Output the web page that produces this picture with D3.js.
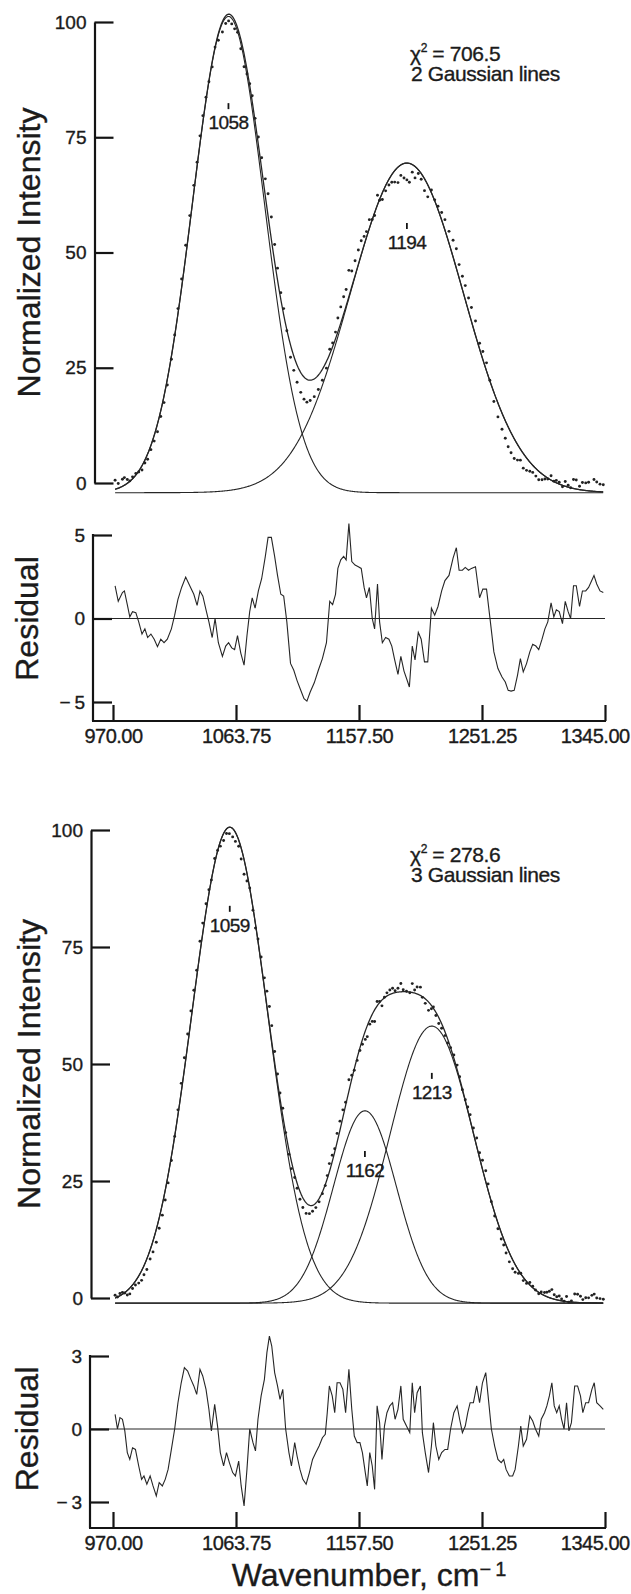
<!DOCTYPE html>
<html>
<head>
<meta charset="utf-8">
<script src="https://cdn.jsdelivr.net/npm/d3@7"></script>
<style>
  html, body { margin: 0; padding: 0; background: #fff; }
  svg { display: block; }
  text { font-family: "Liberation Sans", Arial, Helvetica, sans-serif; fill: #1b1b1b;
         stroke: #1b1b1b; stroke-width: 0.35px; }
</style>
</head>
<body>
<svg id="chart" width="631" height="1594"></svg>
<script>
// ---------- data ----------
const xTicks = [970, 1063.75, 1157.5, 1251.25, 1345];
const intensityTicks = [0, 25, 50, 75, 100];
const resid2Ticks = [-5, 0, 5];
const resid3Ticks = [-3, 0, 3];

// Two-line fit: centre (cm^-1), height above baseline, Gaussian sigma (cm^-1)
const fit2Centers = [1058, 1194];
const fit2Heights = [103.3, 71.5];
const fit2Sigmas = [27.5, 43];
const fit2Baseline = -2.1;
const fit2Chi2 = "706.5";
const fit2LineCount = 2;

// Three-line fit
const fit3Centers = [1059, 1162, 1213];
const fit3Heights = [101.7, 41.1, 59.2];
const fit3Sigmas = [29, 24, 32];
const fit3Baseline = -1.1;
const fit3Chi2 = "278.6";
const fit3LineCount = 3;

// Residuals (observed - fit) and the wavenumbers they were sampled at
const resid2Wn = [971.6,974.0,977.2,978.7,980.9,982.8,984.9,987.4,989.6,992.1,
  994.3,996.4,998.9,1001.4,1003.9,1006.4,1008.9,1011.4,1014.5,1017.0,
  1019.5,1022.3,1025.4,1028.5,1031.6,1034.1,1036.3,1038.5,1040.9,1043.1,
  1045.6,1047.8,1050.3,1053.4,1055.9,1058.1,1060.5,1062.7,1064.9,1067.4,
  1069.9,1072.1,1074.2,1076.1,1078.3,1080.8,1083.3,1086.1,1088.2,1090.7,
  1093.2,1095.4,1097.9,1100.1,1102.5,1105.3,1107.8,1110.3,1113.1,1115.6,
  1117.8,1120.3,1123.4,1126.5,1129.6,1132.7,1135.2,1137.4,1139.6,1141.4,
  1143.6,1145.8,1147.7,1149.8,1152.0,1154.5,1157.0,1159.2,1161.4,1163.2,
  1165.4,1167.6,1169.4,1171.6,1173.2,1175.3,1177.8,1180.3,1182.5,1184.7,
  1187.2,1189.4,1191.8,1194.0,1195.9,1198.1,1200.2,1202.7,1204.9,1207.4,
  1209.9,1212.7,1215.2,1217.7,1220.5,1223.0,1226.1,1229.2,1231.7,1233.8,
  1236.3,1238.5,1241.0,1243.2,1246.3,1249.4,1251.9,1254.7,1257.2,1260.3,
  1263.4,1266.5,1269.0,1271.2,1273.4,1275.8,1278.3,1280.5,1282.7,1285.2,
  1287.7,1289.9,1292.3,1294.5,1297.0,1299.2,1301.4,1303.9,1306.0,1307.9,
  1310.1,1312.6,1314.7,1316.9,1318.8,1321.0,1323.1,1325.6,1327.8,1330.3,
  1332.5,1336.6,1338.7,1341.2,1343.7];
const resid2 = [1.96,1.03,1.55,1.65,0.83,0.1,0.41,0.35,-0.2,-0.93,
  -0.62,-1.14,-0.93,-1.24,-1.69,-1.24,-1.45,-1.24,-0.62,0.2,
  1.14,1.86,2.48,1.96,1.45,0.79,1.65,1.34,0.52,-0.2,
  -1.14,0,-1.45,-2.27,-1.65,-1.45,-1.76,-1.86,-1.03,-2.07,
  -2.79,-1.03,0.41,1.24,0.62,1.65,2.38,3.72,4.86,4.86,
  3.72,2.58,1.45,1.34,-0.2,-2.69,-3.1,-3.72,-4.3,-4.8,
  -4.95,-4.4,-3.85,-3.1,-2.4,-1.45,1.03,0.83,1.45,3.0,
  3.51,3.72,3.51,5.68,3.41,3.2,3.1,3.0,1.86,1.24,
  1.86,0,-0.62,2.07,-0.2,-1.45,-1.14,-1.24,-1.65,-2.48,
  -3.35,-2.27,-3.15,-3.65,-4.1,-1.65,-2.48,-0.83,-1.24,-2.6,
  -2.6,0.62,0.2,0.72,1.65,2.27,2.58,3.62,4.24,2.89,
  2.89,3.06,2.89,3.0,3.1,1.24,1.76,1.76,0.1,-2.0,
  -3.0,-3.5,-3.8,-4.3,-4.35,-4.3,-3.4,-2.4,-3.2,-2.7,
  -2.0,-1.55,-1.65,-1.86,-1.24,-0.62,-0.2,0.93,0.1,0.52,
  0.41,-0.31,1.03,0.41,0,1.96,1.96,0.72,1.65,1.65,
  1.86,2.58,2.07,1.65,1.55];

const resid3Wn = [971.6,973.4,975.3,977.2,979.0,980.9,982.8,984.9,987.1,989.6,
  991.8,993.6,995.8,998.3,1000.5,1003.0,1005.2,1007.6,1009.8,1012.0,
  1014.5,1017.0,1019.5,1022.0,1024.4,1026.9,1029.4,1031.6,1033.8,1036.3,
  1038.4,1040.9,1043.1,1045.0,1047.5,1049.7,1051.8,1054.3,1056.5,1058.7,
  1061.2,1063.3,1065.8,1067.7,1069.9,1072.1,1074.2,1076.7,1078.6,1080.5,
  1082.9,1085.4,1087.3,1089.2,1091.0,1093.2,1095.4,1097.3,1099.4,1101.6,
  1104.1,1106.0,1108.5,1110.3,1112.5,1114.7,1117.2,1119.7,1122.1,1124.6,
  1127.1,1129.6,1131.8,1133.3,1134.9,1137.1,1139.0,1140.8,1143.0,1145.2,
  1147.3,1149.8,1152.0,1153.9,1156.1,1158.2,1160.1,1162.3,1163.8,1165.7,
  1167.6,1169.4,1171.3,1173.2,1175.0,1176.9,1178.8,1181.0,1183.1,1185.0,
  1187.2,1189.4,1191.2,1193.7,1196.2,1198.1,1199.9,1201.8,1204.3,1205.8,
  1208.0,1210.5,1212.7,1214.2,1216.1,1218.3,1220.5,1223.0,1225.1,1227.3,
  1229.8,1232.3,1234.2,1236.3,1238.5,1240.4,1242.2,1244.7,1247.2,1249.4,
  1251.6,1254.1,1255.9,1258.4,1260.9,1263.4,1265.9,1267.8,1269.6,1272.1,
  1274.6,1276.5,1279.0,1280.8,1282.7,1285.2,1287.7,1289.9,1292.0,1294.5,
  1296.4,1298.9,1300.7,1302.6,1304.5,1306.3,1308.2,1310.1,1311.9,1313.8,
  1315.7,1317.5,1319.4,1321.9,1324.1,1326.3,1328.1,1330.3,1332.5,1335.0,
  1336.8,1338.7,1341.2,1343.7];
const resid3 = [0.6,0,0.47,0.4,-0.08,-0.97,-1.25,-0.77,-0.84,-1.52,
  -2.07,-1.93,-2.27,-1.93,-2.34,-2.75,-2.2,-2.34,-2.07,-1.66,
  -0.84,0,1.08,1.9,2.52,2.38,2.04,1.77,1.42,2.45,
  2.18,1.63,0.81,-0.08,1.01,0.12,-0.97,-1.52,-0.97,-1.38,
  -1.79,-1.93,-1.32,-2.34,-3.16,-1.66,0,-0.56,-0.9,0.4,
  1.36,2.04,3.14,3.82,3.41,2.32,1.77,1.22,1.63,0,
  -0.97,-1.52,-0.56,-1.11,-1.66,-2.07,-2.27,-1.79,-1.25,-0.97,
  -0.7,-0.36,-0.22,0.67,1.77,1.36,0.67,1.9,1.9,1.63,
  0.67,2.45,0.81,-0.29,-0.56,-0.56,-0.97,-1.79,-2.34,-0.97,
  -1.52,-2.48,0.95,0.26,-1.25,0.12,0.67,0.95,1.08,0.4,
  0.81,1.77,0.4,0.12,-0.15,1.9,0.67,1.49,1.77,-0.15,
  -0.97,-1.79,-0.7,0.26,-0.7,-1.25,-0.97,-0.84,-0.84,0,
  0.67,0.95,0.4,-0.15,0.12,0.67,1.08,1.08,1.77,1.08,
  1.9,2.32,1.36,0,-0.7,-1.25,-1.38,-1.25,-1.66,-1.93,
  -1.93,-1.66,-0.7,0.12,-0.7,-0.42,0.53,0.33,0,-0.29,
  0.4,0.67,0.95,1.36,1.9,0.95,0.67,0.95,0.4,0,
  1.08,-0.08,0.26,1.77,1.77,1.36,0.67,1.08,1.08,1.63,
  1.9,1.08,0.95,0.81];

// ---------- layout ----------
const W = 631;
const svg = d3.select("#chart");
const INK = "#141414";
const CURVE = "#262626";
const xDomain = [970, 1345];
const xRange = [113, 605];

const panels = {
  fit2: { axisX: 94.5, yRange: [483, 22], markLevels: [82.4, 56.4], textY: 61 },
  res2: { axisX: 93, yRange: [702, 535], xAxisY: 721 },
  fit3: { axisX: 91, yRange: [1298, 830], markLevels: [83.8, 31.4, 48.1], textY: 862 },
  res3: { axisX: 90, yRange: [1502, 1356], xAxisY: 1528 }
};

const fmtTick = d => d < 0 ? "\u2212\u2009" + Math.abs(d) : String(d);
const FONT = '"Liberation Sans", Arial, sans-serif';

function drawSpectrum(p, centers, heights, sigmas, baseline, wn, resid, chi2, nLines) {
  const g = svg.append("g");
  const x = d3.scaleLinear().domain(xDomain).range(xRange);
  const y = d3.scaleLinear().domain([0, 100]).range(p.yRange);
  const comp = (i, w) => heights[i] * Math.exp(-((w - centers[i]) ** 2) / (2 * sigmas[i] ** 2));
  const total = w => baseline + d3.sum(centers, (c, i) => comp(i, w));
  const grid = d3.range(wn[0], wn[wn.length - 1] + 0.01, 0.5);
  const line = d3.line().x(d => x(d[0])).y(d => y(d[1]));

  // individual Gaussian lines
  centers.forEach((c, i) => {
    g.append("path")
      .datum(grid.map(w => [w, baseline + comp(i, w)]))
      .attr("d", line).attr("fill", "none")
      .attr("stroke", CURVE).attr("stroke-width", 1.1);
  });
  // summed fit
  g.append("path")
    .datum(grid.map(w => [w, total(w)]))
    .attr("d", line).attr("fill", "none")
    .attr("stroke", CURVE).attr("stroke-width", 1.3);

  // observed points = fit + residual
  g.append("g").selectAll("circle")
    .data(wn.map((w, j) => [w, total(w) + resid[j]]))
    .join("circle")
    .attr("cx", d => x(d[0])).attr("cy", d => y(d[1]))
    .attr("r", 1.45).attr("fill", "#222");

  // y axis
  const ax = g.append("g").attr("transform", `translate(${p.axisX},0)`)
    .call(d3.axisLeft(y).tickValues(intensityTicks).tickSize(-19).tickSizeOuter(0).tickPadding(8));
  ax.select(".domain").attr("stroke", INK).attr("stroke-width", 2.2);
  ax.selectAll(".tick line").attr("stroke", INK).attr("stroke-width", 2.2);
  ax.selectAll(".tick text").attr("font-size", 19).attr("fill", INK).style("font-family", FONT);

  // peak centre marks
  centers.forEach((c, i) => {
    const yt = y(p.markLevels[i]);
    g.append("line").attr("x1", x(c)).attr("x2", x(c))
      .attr("y1", yt).attr("y2", yt + 6)
      .attr("stroke", INK).attr("stroke-width", 1.8);
    g.append("text").attr("x", x(c)).attr("y", yt + 26)
      .attr("text-anchor", "middle").attr("font-size", 19)
      .attr("letter-spacing", -0.6).text(c);
  });

  // fit statistics
  const t = g.append("text").attr("x", 410).attr("y", p.textY).attr("font-size", 21).attr("letter-spacing", -0.4);
  t.append("tspan").text("\u03c7");
  t.append("tspan").attr("font-size", 12).attr("dy", -9).text("2");
  t.append("tspan").attr("dy", 9).text(" =  " + chi2);
  g.append("text").attr("x", 411).attr("y", p.textY + 20).attr("font-size", 21)
    .attr("letter-spacing", -0.4).text(nLines + " Gaussian lines");

  // axis title
  g.append("text")
    .attr("transform", `translate(40,${(p.yRange[0] + p.yRange[1]) / 2}) rotate(-90)`)
    .attr("text-anchor", "middle").attr("font-size", 32)
    .text("Normalized Intensity");
}

function drawResidual(p, ticks, wn, resid) {
  const g = svg.append("g");
  const x = d3.scaleLinear().domain(xDomain).range(xRange);
  const y = d3.scaleLinear().domain([ticks[0], ticks[2]]).range(p.yRange);

  // zero reference line
  g.append("line").attr("x1", p.axisX).attr("x2", x(xDomain[1]))
    .attr("y1", y(0)).attr("y2", y(0))
    .attr("stroke", CURVE).attr("stroke-width", 1.1);

  // residual trace
  g.append("path")
    .datum(wn.map((w, j) => [w, resid[j]]))
    .attr("d", d3.line().x(d => x(d[0])).y(d => y(d[1])))
    .attr("fill", "none").attr("stroke", CURVE).attr("stroke-width", 1.1);

  // y axis
  const ay = g.append("g").attr("transform", `translate(${p.axisX},0)`)
    .call(d3.axisLeft(y).tickValues(ticks).tickSize(-19).tickPadding(8).tickFormat(fmtTick));
  ay.select(".domain").remove();
  ay.selectAll(".tick line").attr("stroke", INK).attr("stroke-width", 2.2);
  ay.selectAll(".tick text").attr("font-size", 19).attr("fill", INK).style("font-family", FONT);
  g.append("line").attr("x1", p.axisX).attr("x2", p.axisX)
    .attr("y1", y(ticks[2]) - 1).attr("y2", p.xAxisY)
    .attr("stroke", INK).attr("stroke-width", 2.2);

  // x axis
  const axx = g.append("g").attr("transform", `translate(0,${p.xAxisY})`)
    .call(d3.axisBottom(x).tickValues(xTicks).tickSize(-16).tickPadding(8).tickFormat(d3.format(".2f")));
  axx.select(".domain").remove();
  axx.selectAll(".tick line").attr("stroke", INK).attr("stroke-width", 2.2);
  axx.selectAll(".tick text").attr("font-size", 20).attr("fill", INK)
    .attr("letter-spacing", -0.5).style("font-family", FONT);
  // keep the outermost label inside the page
  axx.selectAll(".tick").each(function () {
    const tick = d3.select(this);
    const tx = +tick.attr("transform").match(/translate\(([-\d.]+)/)[1];
    const box = tick.select("text").node().getBBox();
    const over = tx + box.x + box.width - (W - 1);
    if (over > 0) tick.select("text").attr("dx", -over);
  });
  g.append("line").attr("x1", p.axisX - 1).attr("x2", x(xDomain[1]) + 1)
    .attr("y1", p.xAxisY).attr("y2", p.xAxisY)
    .attr("stroke", INK).attr("stroke-width", 2.2);

  // axis title
  g.append("text")
    .attr("transform", `translate(38,${y(0)}) rotate(-90)`)
    .attr("text-anchor", "middle").attr("font-size", 32)
    .text("Residual");
}

drawSpectrum(panels.fit2, fit2Centers, fit2Heights, fit2Sigmas, fit2Baseline, resid2Wn, resid2, fit2Chi2, fit2LineCount);
drawResidual(panels.res2, resid2Ticks, resid2Wn, resid2);
drawSpectrum(panels.fit3, fit3Centers, fit3Heights, fit3Sigmas, fit3Baseline, resid3Wn, resid3, fit3Chi2, fit3LineCount);
drawResidual(panels.res3, resid3Ticks, resid3Wn, resid3);

// x-axis title
const xt = svg.append("text")
  .attr("x", (xRange[0] + xRange[1]) / 2 + 10).attr("y", 1586)
  .attr("text-anchor", "middle").attr("font-size", 32);
xt.append("tspan").text("Wavenumber, cm");
xt.append("tspan").attr("font-size", 20).attr("dy", -10).text("\u2212\u20091");
</script>
</body>
</html>
